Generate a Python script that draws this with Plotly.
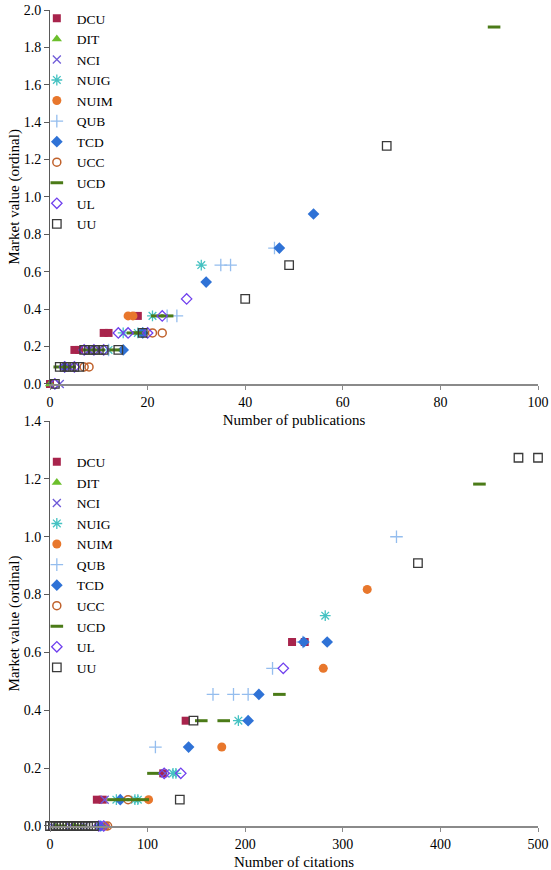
import plotly.graph_objects as go

# ---------------- data: publications (top chart) ----------------
series = ["DCU", "DIT", "NCI", "NUIG", "NUIM", "QUB", "TCD", "UCC", "UCD", "UL", "UU"]

pub_DCU_x = [0, 5, 6, 11, 12, 18]
pub_DCU_y = [0, 0.182, 0.182, 0.273, 0.273, 0.364]
pub_DIT_x = [0, 3]
pub_DIT_y = [0, 0.091]
pub_NCI_x = [2, 4, 8]
pub_NCI_y = [0, 0.091, 0.182]
pub_NUIG_x = [12, 15, 18, 19, 21, 31]
pub_NUIG_y = [0.182, 0.273, 0.273, 0.273, 0.364, 0.636]
pub_NUIM_x = [16, 17]
pub_NUIM_y = [0.364, 0.364]
pub_QUB_x = [12, 24, 26, 35, 37, 46]
pub_QUB_y = [0.182, 0.364, 0.364, 0.636, 0.636, 0.727]
pub_TCD_x = [3, 15, 19, 32, 47, 54]
pub_TCD_y = [0.091, 0.182, 0.273, 0.545, 0.727, 0.909]
pub_UCC_x = [7, 8, 21, 23]
pub_UCC_y = [0.091, 0.091, 0.273, 0.273]
pub_UCD_x = [2, 4, 8, 10, 13, 17, 18, 22, 24, 91]
pub_UCD_y = [0.091, 0.091, 0.182, 0.182, 0.182, 0.273, 0.273, 0.364, 0.364, 1.909]
pub_UL_x = [1, 3, 5, 7, 9, 11, 14, 16, 20, 23, 28]
pub_UL_y = [0, 0.091, 0.091, 0.182, 0.182, 0.182, 0.273, 0.273, 0.273, 0.364, 0.455]
pub_UU_x = [1, 2, 3, 4, 5, 6, 7, 8, 9, 10, 11, 14, 19, 40, 49, 69]
pub_UU_y = [0, 0.091, 0.091, 0.091, 0.091, 0.091, 0.182, 0.182, 0.182, 0.182, 0.182,
            0.182, 0.273, 0.455, 0.636, 1.273]

# ---------------- data: citations (bottom chart) ----------------
cit_DCU_x = [48, 54, 116, 139, 248, 261]
cit_DCU_y = [0.091, 0.091, 0.182, 0.364, 0.636, 0.636]
cit_DIT_x = [5, 25]
cit_DIT_y = [0, 0]
cit_NCI_x = [2, 20, 35, 56, 118]
cit_NCI_y = [0, 0, 0, 0.091, 0.182]
cit_NUIG_x = [68, 87, 90, 126, 129, 193, 282]
cit_NUIG_y = [0.091, 0.091, 0.091, 0.182, 0.182, 0.364, 0.727]
cit_NUIM_x = [57, 101, 176, 280, 325]
cit_NUIM_y = [0, 0.091, 0.273, 0.545, 0.818]
cit_QUB_x = [108, 167, 188, 203, 228, 259, 355]
cit_QUB_y = [0.273, 0.455, 0.455, 0.455, 0.545, 0.636, 1.0]
cit_TCD_x = [52, 72, 142, 203, 214, 260, 284]
cit_TCD_y = [0, 0.091, 0.273, 0.364, 0.455, 0.636, 0.636]
cit_UCC_x = [59, 80]
cit_UCC_y = [0, 0.091]
cit_UCD_x = [10, 30, 65, 75, 85, 95, 106, 155, 178, 235, 440]
cit_UCD_y = [0, 0, 0.091, 0.091, 0.091, 0.091, 0.182, 0.364, 0.364, 0.455, 1.182]
cit_UL_x = [50, 55, 117, 134, 239]
cit_UL_y = [0, 0, 0.182, 0.182, 0.545]
cit_UU_x = [0, 3, 6, 9, 12, 15, 18, 21, 24, 27, 30, 33, 36, 39, 42, 45, 133, 147, 377, 480, 500]
cit_UU_y = [0] * 16 + [0.091, 0.364, 0.909, 1.273, 1.273]

pub_data = {
    "DCU": (pub_DCU_x, pub_DCU_y), "DIT": (pub_DIT_x, pub_DIT_y), "NCI": (pub_NCI_x, pub_NCI_y),
    "NUIG": (pub_NUIG_x, pub_NUIG_y), "NUIM": (pub_NUIM_x, pub_NUIM_y), "QUB": (pub_QUB_x, pub_QUB_y),
    "TCD": (pub_TCD_x, pub_TCD_y), "UCC": (pub_UCC_x, pub_UCC_y), "UCD": (pub_UCD_x, pub_UCD_y),
    "UL": (pub_UL_x, pub_UL_y), "UU": (pub_UU_x, pub_UU_y),
}
cit_data = {
    "DCU": (cit_DCU_x, cit_DCU_y), "DIT": (cit_DIT_x, cit_DIT_y), "NCI": (cit_NCI_x, cit_NCI_y),
    "NUIG": (cit_NUIG_x, cit_NUIG_y), "NUIM": (cit_NUIM_x, cit_NUIM_y), "QUB": (cit_QUB_x, cit_QUB_y),
    "TCD": (cit_TCD_x, cit_TCD_y), "UCC": (cit_UCC_x, cit_UCC_y), "UCD": (cit_UCD_x, cit_UCD_y),
    "UL": (cit_UL_x, cit_UL_y), "UU": (cit_UU_x, cit_UU_y),
}

# ---------------- styles ----------------
styles = {
    "DCU": dict(symbol="square", color="#A8244C", size=8, lw=0),
    "DIT": dict(symbol="triangle-up", color="#6CBF2C", size=9, lw=0),
    "NCI": dict(symbol="x-thin-open", color="#6F5BD8", size=8, lw=1.3),
    "NUIG": dict(symbol="asterisk-open", color="#45C2C2", size=9, lw=1.3),
    "NUIM": dict(symbol="circle", color="#E8772C", size=9, lw=0),
    "QUB": dict(symbol="cross-thin-open", color="#94BDEE", size=9, lw=1.3),
    "TCD": dict(symbol="diamond", color="#2F72D6", size=9, lw=0),
    "UCC": dict(symbol="circle-open", color="#C0622C", size=8, lw=1.5),
    "UCD": dict(symbol="line-ew-open", color="#4B7B18", size=9, lw=3),
    "UL": dict(symbol="diamond-open", color="#7040EE", size=8, lw=1.3),
    "UU": dict(symbol="square-open", color="#3A3A3A", size=8.5, lw=1.3),
}

FONT = "Liberation Serif"
fig = go.Figure()


def make_marker(st):
    filled = st["lw"] == 0
    return dict(symbol=st["symbol"], size=st["size"], color=st["color"],
                line=dict(color=st["color"], width=0 if filled else st["lw"]))


for name in series:
    x, y = pub_data[name]
    fig.add_trace(go.Scatter(x=x, y=y, mode="markers", name=name, marker=make_marker(styles[name]),
                             xaxis="x", yaxis="y", legend="legend", cliponaxis=False))
for name in series:
    x, y = cit_data[name]
    fig.add_trace(go.Scatter(x=x, y=y, mode="markers", name=name, marker=make_marker(styles[name]),
                             xaxis="x2", yaxis="y2", legend="legend2", cliponaxis=False))

axis_font = dict(family=FONT, size=14, color="#000")
title_font = dict(family=FONT, size=15, color="#000")
xcommon = dict(showgrid=False, zeroline=False, showline=True, linecolor="#8A8A8A", linewidth=2,
               ticks="outside", ticklen=4, tickcolor="#8A8A8A", tickfont=axis_font,
               title_font=title_font, automargin=False)
ycommon = dict(showgrid=False, zeroline=False, showline=True, linecolor="#5A5A5A", linewidth=1,
               ticks="outside", ticklen=5, tickcolor="#5A5A5A", tickfont=axis_font,
               tickformat=".1f", title_font=title_font, automargin=False)

legend_common = dict(font=dict(family=FONT, size=13.5, color="#000"), bgcolor="rgba(0,0,0,0)",
                     xanchor="left", yanchor="top", itemwidth=30, tracegroupgap=0)

fig.update_layout(
    width=551, height=870,
    margin=dict(l=50, r=13, t=10, b=44, autoexpand=False),
    paper_bgcolor="white", plot_bgcolor="white",
    font=dict(family=FONT, color="#000"),
    xaxis=dict(xcommon, domain=[0, 1], range=[0, 100], dtick=20, anchor="y",
               title=dict(text="Number of publications", standoff=6)),
    yaxis=dict(ycommon, domain=[0.5417, 1], range=[0, 2.0], dtick=0.2, anchor="x",
               title=dict(text="Market value (ordinal)", standoff=0)),
    xaxis2=dict(xcommon, domain=[0, 1], range=[0, 500], dtick=100, anchor="y2",
                title=dict(text="Number of citations", standoff=6)),
    yaxis2=dict(ycommon, domain=[0, 0.4963], range=[0, 1.4], dtick=0.2, anchor="x2",
                title=dict(text="Market value (ordinal)", standoff=0)),
    legend=dict(legend_common, x=-0.027, y=1.0085),
    legend2=dict(legend_common, x=-0.027, y=0.465),
    showlegend=True,
)

# remove the browser's default body margin so the 551x870 figure fits the window exactly
fig.write_html("out.html",
               config={"displayModeBar": False},
               post_script="document.body.style.margin='0';document.body.style.overflow='hidden';")
